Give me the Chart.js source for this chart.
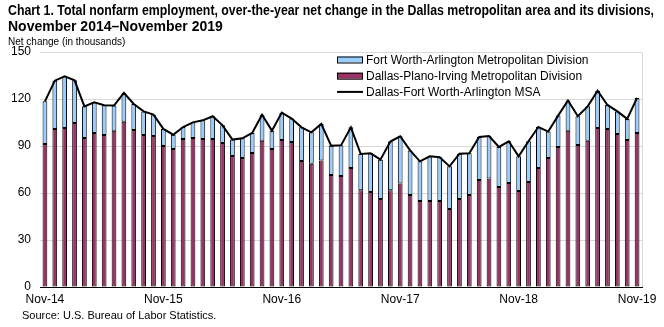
<!doctype html>
<html>

<head>
  <script src="https://cdn.jsdelivr.net/npm/chart.js@4/dist/chart.umd.min.js"></script>
  <style>
    body { margin: 0; background: #fff; font-family: "Liberation Sans", Arial, sans-serif; }
    #wrap { position: relative; width: 664px; height: 327px; overflow: hidden; }
    #canvas { position: absolute; left: 0; top: 0; }
    .title { position: absolute; left: 8px; font-weight: bold; font-size: 14px; line-height: 16px; white-space: nowrap; transform-origin: 0 0; color: #000; }
    #t1 { top: 2px; }
    #t2 { top: 18px; }
    #unit { position: absolute; left: 8px; top: 36px; font-size: 10px; }
    #src { position: absolute; left: 22px; top: 309px; font-size: 11px; }
  </style>
</head>

<body>
  <div id="wrap">
    <canvas id="canvas" width="664" height="327"></canvas>
    <div class="title" id="t1">Chart 1. Total nonfarm employment, over-the-year net change in the Dallas metropolitan area and its divisions,</div>
    <div class="title" id="t2">November 2014–November 2019</div>
    <div id="unit">Net change (in thousands)</div>
    <div id="src">Source: U.S. Bureau of Labor Statistics.</div>
  </div>
  <script>
    const months = [
      'Nov-14', 'Dec-14', 'Jan-15', 'Feb-15', 'Mar-15', 'Apr-15', 'May-15', 'Jun-15', 'Jul-15', 'Aug-15', 'Sep-15', 'Oct-15',
      'Nov-15', 'Dec-15', 'Jan-16', 'Feb-16', 'Mar-16', 'Apr-16', 'May-16', 'Jun-16', 'Jul-16', 'Aug-16', 'Sep-16', 'Oct-16',
      'Nov-16', 'Dec-16', 'Jan-17', 'Feb-17', 'Mar-17', 'Apr-17', 'May-17', 'Jun-17', 'Jul-17', 'Aug-17', 'Sep-17', 'Oct-17',
      'Nov-17', 'Dec-17', 'Jan-18', 'Feb-18', 'Mar-18', 'Apr-18', 'May-18', 'Jun-18', 'Jul-18', 'Aug-18', 'Sep-18', 'Oct-18',
      'Nov-18', 'Dec-18', 'Jan-19', 'Feb-19', 'Mar-19', 'Apr-19', 'May-19', 'Jun-19', 'Jul-19', 'Aug-19', 'Sep-19', 'Oct-19',
      'Nov-19'
    ];
    const tickLabels = ['Nov-14', 'Nov-15', 'Nov-16', 'Nov-17', 'Nov-18', 'Nov-19'];

    // thousands, over-the-year change
    const dallas = [
      91.3, 100.9, 101.5, 104.7, 95.1, 98.3, 97.0, 99.8, 105.5, 100.2, 97.0, 96.4,
      90.0, 88.1, 94.5, 95.1, 94.5, 94.5, 91.9, 83.6, 82.4, 85.5, 93.4, 88.1,
      93.8, 92.6, 80.4, 78.7, 80.7, 71.5, 70.9, 76.0, 61.7, 60.6, 56.2, 61.7,
      66.0, 58.7, 54.9, 54.9, 54.9, 49.8, 56.2, 58.7, 68.3, 69.2, 63.8, 66.4,
      61.3, 67.0, 76.0, 82.4, 89.4, 99.8, 90.7, 93.4, 101.5, 100.9, 97.7, 93.8,
      98.3
    ];
    const fortWorth = [
      27.2, 30.8, 33.0, 27.2, 20.2, 19.6, 19.0, 16.0, 18.4, 16.6, 15.1, 13.6,
      10.9, 9.1, 7.6, 10.0, 11.9, 14.5, 11.3, 10.5, 12.5, 12.8, 16.6, 11.7,
      17.5, 14.9, 21.5, 20.0, 23.4, 18.7, 19.5, 25.9, 23.2, 24.7, 25.1, 31.1,
      30.2, 28.5, 25.3, 28.5, 27.9, 27.2, 28.9, 26.6, 27.5, 27.2, 25.6, 26.6,
      22.1, 26.0, 26.1, 16.8, 20.0, 19.2, 18.3, 21.9, 23.8, 15.3, 14.4, 13.5,
      22.4
    ];
    const msa = [
      118.5, 131.7, 134.5, 131.9, 115.3, 117.9, 116.0, 115.8, 123.9, 116.8, 112.1, 110.0,
      100.9, 97.2, 102.1, 105.1, 106.4, 109.0, 103.2, 94.1, 94.9, 98.3, 110.0, 99.8,
      111.3, 107.5, 101.9, 98.7, 104.1, 90.2, 90.4, 101.9, 84.9, 85.3, 81.3, 92.8,
      96.2, 87.2, 80.2, 83.4, 82.8, 77.0, 85.1, 85.3, 95.8, 96.4, 89.4, 93.0,
      83.4, 93.0, 102.1, 99.2, 109.4, 119.0, 109.0, 115.3, 125.3, 116.2, 112.1, 107.3,
      120.7
    ];

    // fit the bold title into the width of the original (narrow face there)
    ['t1', 't2'].forEach((id) => {
      const el = document.getElementById(id);
      const w = el.getBoundingClientRect().width;
      const k = 646 / document.getElementById('t1').getBoundingClientRect().width;
      el.style.transform = 'scaleX(' + k + ')';
    });

    const FONT = '"Liberation Sans", Arial, sans-serif';

    // gray frame on top/right of the plot, like the original
    const framePlugin = {
      id: 'frame',
      beforeDatasetsDraw(chart) {
        const { ctx, chartArea: a } = chart;
        ctx.save();
        ctx.strokeStyle = '#d9d9d9';
        ctx.lineWidth = 1;
        ctx.beginPath();
        ctx.moveTo(a.left, a.top + 0.5);
        ctx.lineTo(a.right + 0.5, a.top + 0.5);
        ctx.lineTo(a.right + 0.5, a.bottom);
        ctx.stroke();
        ctx.restore();
      }
    };

    // legend inside the plot, upper right
    const legendPlugin = {
      id: 'innerLegend',
      afterDraw(chart) {
        const { ctx } = chart;
        const ds = chart.data.datasets;
        const rows = [ds[1], ds[0], ds[2]];
        const x = 337, y0 = 59.5, step = 16.2;
        ctx.save();
        ctx.font = '12px ' + FONT;
        ctx.textBaseline = 'middle';
        rows.forEach((d, i) => {
          const y = y0 + i * step;
          if (d.type === 'line') {
            ctx.strokeStyle = d.borderColor;
            ctx.lineWidth = 2;
            ctx.beginPath();
            ctx.moveTo(x, y);
            ctx.lineTo(x + 26, y);
            ctx.stroke();
          } else {
            ctx.fillStyle = d.backgroundColor;
            ctx.fillRect(x, y - 3, 26, 6);
            ctx.strokeStyle = '#000';
            ctx.lineWidth = 1;
            ctx.strokeRect(x + 0.5, y - 3 + 0.5, 25, 6);
          }
          ctx.fillStyle = '#000';
          ctx.fillText(d.label, x + 29, y + 1);
        });
        ctx.restore();
      }
    };

    new Chart(document.getElementById('canvas').getContext('2d'), {
      type: 'bar',
      data: {
        labels: months,
        datasets: [{
          label: 'Dallas-Plano-Irving Metropolitan Division',
          data: dallas,
          backgroundColor: '#993366',
          borderColor: '#000',
          borderWidth: 1,
          borderSkipped: false,
          barPercentage: 0.48,
          categoryPercentage: 1,
          stack: 'div',
          order: 2
        }, {
          label: 'Fort Worth-Arlington Metropolitan Division',
          data: fortWorth,
          backgroundColor: '#99ccff',
          borderColor: '#000',
          borderWidth: 1,
          borderSkipped: false,
          barPercentage: 0.48,
          categoryPercentage: 1,
          stack: 'div',
          order: 2
        }, {
          type: 'line',
          label: 'Dallas-Fort Worth-Arlington MSA',
          data: msa,
          borderColor: '#000',
          backgroundColor: '#000',
          borderWidth: 2,
          pointRadius: 0,
          tension: 0,
          stack: 'msa',
          order: 1
        }]
      },
      options: {
        responsive: false,
        animation: false,
        layout: { padding: { left: 0, right: 22, top: 52, bottom: 20 } },
        plugins: {
          legend: { display: false },
          tooltip: { enabled: false }
        },
        scales: {
          x: {
            stacked: true,
            grid: { display: false, drawTicks: false },
            border: { display: true, color: '#000', width: 1 },
            afterFit: (s) => { s.height = 20; },
            ticks: {
              autoSkip: false,
              maxRotation: 0,
              padding: 5,
              color: '#000',
              font: { family: FONT, size: 12 },
              callback: function (v, i) {
                const m = months[i];
                return tickLabels.includes(m) ? m : '';
              }
            }
          },
          y: {
            stacked: true,
            min: 0,
            max: 150,
            afterFit: (s) => { s.width = 40; },
            grid: { color: '#d9d9d9', drawTicks: false },
            border: { display: false },
            ticks: {
              stepSize: 30,
              padding: 9,
              color: '#000',
              font: { family: FONT, size: 12 }
            }
          }
        }
      },
      plugins: [framePlugin, legendPlugin]
    });
  </script>
</body>

</html>
